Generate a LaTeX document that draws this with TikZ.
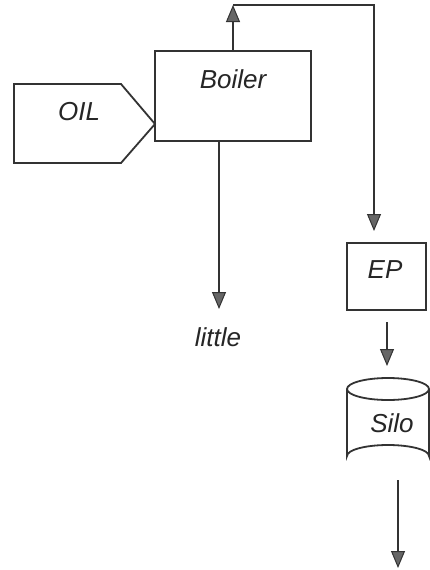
\documentclass[tikz,border=0pt]{standalone}
\usepackage{fontspec}
\setmainfont{Liberation Sans}
\usetikzlibrary{arrows.meta}
\begin{document}
\begin{tikzpicture}[x=1pt,y=-1pt,
  ln/.style={line width=1.8pt, draw=black!80, line join=miter},
  arr/.style={ln, -{Triangle[length=17pt,width=14pt,fill=black!60,line width=1pt]}},
  lbl/.style={font=\fontsize{26}{30}\selectfont\itshape, inner sep=0pt, text=black!85},
  box/.style={ln, draw, inner sep=0pt}]
\useasboundingbox (0,0) rectangle (430,570);
\fill[white] (0,0) rectangle (430,570);
% OIL pentagon
\coordinate (o1) at (14,84);
\coordinate (o2) at (121,84);
\coordinate (otip) at (155,124);
\coordinate (o4) at (121,163);
\coordinate (o5) at (14,163);
\draw[ln] (o1) -- (o2) -- (otip) -- (o4) -- (o5) -- cycle;
\node[lbl] (oil) at (79,112) {OIL};
% Boiler
\node[box, minimum width=156pt, minimum height=90pt] (boiler) at (233,96) {};
\node[lbl] (boilerlbl) at (233,79) {Boiler};
% EP
\node[box, minimum width=79pt, minimum height=67pt] (ep) at (386.5,276.5) {};
\node[lbl] (eplbl) at (385,270) {EP};
% Silo
\draw[ln] (347,389) -- (347,456) arc[start angle=180,end angle=360,x radius=41,y radius=11] -- (429,389);
\draw[ln] (388,389) ellipse[x radius=41, y radius=11];
\node[lbl] (silolbl) at (392,423) {Silo};
% Connectors
\coordinate (tl) at (233,5);
\coordinate (tr) at (374,5);
\coordinate (epin) at (374,231);
\draw[arr] (boiler.north) -- (tl);
\draw[arr] (tl) -- (tr) -- (epin);
\coordinate (bd) at (219,309);
\draw[arr] (bd |- boiler.south) -- (bd);
\node[lbl] (little) at (218,337) {little};
\coordinate (epout) at (387,322);
\coordinate (siloin) at (387,366);
\draw[arr] (epout) -- (siloin);
\coordinate (siloout) at (398,480);
\coordinate (sink) at (398,568);
\draw[arr] (siloout) -- (sink);
\end{tikzpicture}
\end{document}
